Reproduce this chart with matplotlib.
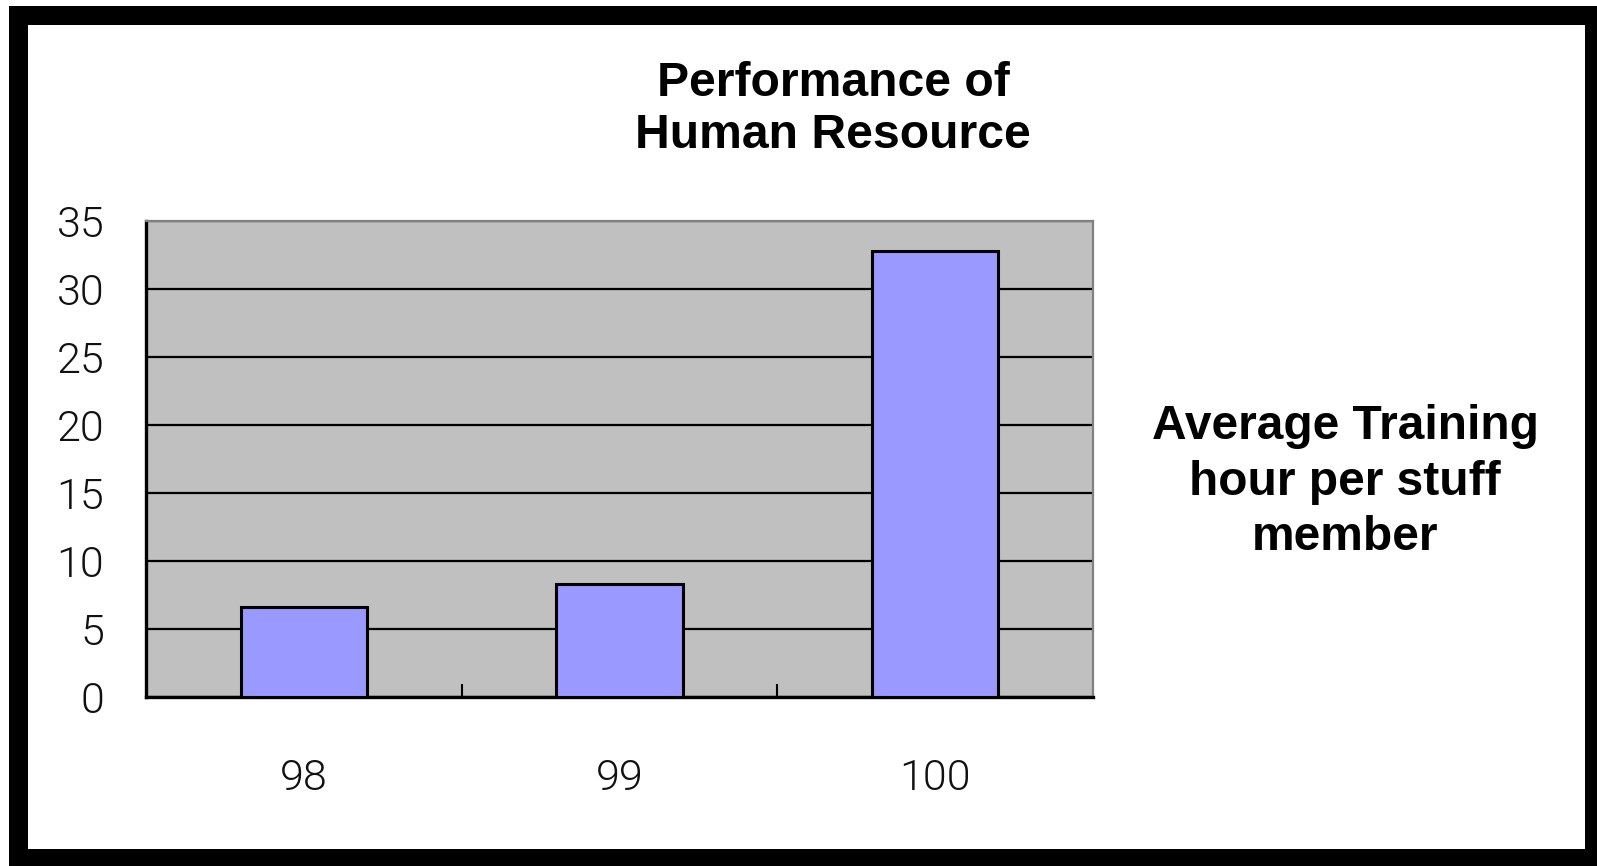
import matplotlib
matplotlib.use("Agg")
import matplotlib.pyplot as plt
from matplotlib.patches import Rectangle
from matplotlib.ticker import FixedLocator

years = ["98", "99", "100"]
training_hours = [6.6, 8.3, 32.8]
y_ticks = [0, 5, 10, 15, 20, 25, 30, 35]

W, H = 1597, 866
fig = plt.figure(figsize=(W / 100, H / 100), dpi=100)
fig.patch.set_facecolor("white")

# black picture frame with white interior
fig.add_artist(Rectangle((9 / W, 0), 1 - 9 / W, 1 - 6 / H, transform=fig.transFigure,
                         facecolor="black", edgecolor="none", zorder=0))
fig.add_artist(Rectangle((28 / W, 1 - 849 / H), (1585 - 28) / W, (849 - 25) / H,
                         transform=fig.transFigure, facecolor="white", edgecolor="none", zorder=0))

ax = fig.add_axes([146 / W, (H - 697) / H, (1093 - 146) / W, (697 - 221) / H])
ax.set_facecolor("#C0C0C0")

x = list(range(len(years)))
ax.bar(x, training_hours, width=0.4, color="#9999FF", edgecolor="black", linewidth=2.2, zorder=3)

ax.set_xlim(-0.5, len(years) - 0.5)
ax.set_ylim(0, 35)
ax.set_yticks(y_ticks)
ax.set_xticks(x)
ax.set_xticklabels(years)
ax.xaxis.set_minor_locator(FixedLocator([0.5, 1.5]))

ax.yaxis.grid(True, color="black", linewidth=1.6, zorder=1)
ax.set_axisbelow(True)

for lab in ax.get_xticklabels() + ax.get_yticklabels():
    lab.set_fontfamily(["Roboto", "DejaVu Sans"])
    lab.set_fontweight(300)
    lab.set_fontsize(31)
    lab.set_color("#111111")

ax.tick_params(axis="y", which="both", length=0, pad=30)
ax.tick_params(axis="x", which="major", length=0, pad=44)
ax.tick_params(axis="x", which="minor", direction="in", length=9.5, width=1.5, color="black")

for side in ("left", "bottom"):
    ax.spines[side].set_color("black")
    ax.spines[side].set_linewidth(2.4)
for side in ("top", "right"):
    ax.spines[side].set_color("#808080")
    ax.spines[side].set_linewidth(1.6)

bold = dict(family="Liberation Sans", weight="bold", color="black", ha="center", va="center")
fig.text(833 / W, 1 - 110 / H, "Performance of\nHuman Resource", fontsize=34.7,
         linespacing=1.2, **bold)
fig.text(1345 / W, 1 - 482 / H, "Average Training\nhour per stuff\nmember", fontsize=34.5,
         linespacing=1.31, **bold)

fig.savefig("out.png", dpi=100, facecolor=fig.get_facecolor())
